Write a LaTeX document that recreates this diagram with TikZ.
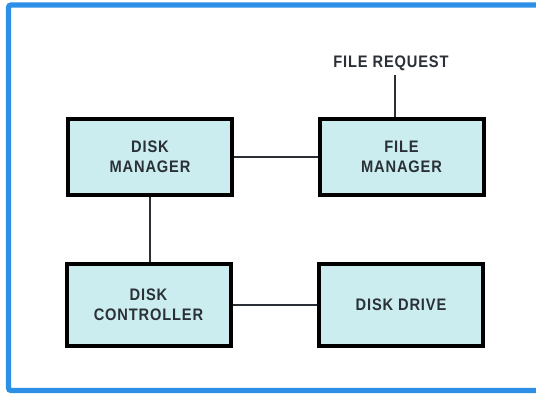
\documentclass[tikz,border=0pt]{standalone}
\usepackage{fontspec}
\setmainfont[FakeStretch=0.88,LetterSpace=5]{Liberation Sans}
\definecolor{boxfill}{HTML}{CBEDEF}
\definecolor{txt}{HTML}{2A3036}
\definecolor{frameblue}{HTML}{2E8FE6}
\begin{document}
\begin{tikzpicture}[x=0.75pt,y=-0.75pt,
  blockbox/.style={draw=black,line width=3pt,fill=boxfill,text=txt,
    font=\bfseries\fontsize{12.5}{15}\selectfont,align=center,
    minimum width=123pt,inner sep=0pt},
  toprow/.style={minimum height=57pt},
  botrow/.style={minimum height=61pt},
  link/.style={draw=txt,line width=1pt}]
\useasboundingbox (0,0) rectangle (536,396);
\fill[white] (0,0) rectangle (536,396);
\draw[frameblue,line width=4pt,rounded corners=2pt] (8.5,5) rectangle (548,390.5);
\node[blockbox,toprow] (dm) at (150,157) {DISK\\MANAGER};
\node[blockbox,toprow] (fm) at (401.5,157) {FILE\\MANAGER};
\node[blockbox,botrow] (dc) at (148.5,305) {DISK\\CONTROLLER};
\node[blockbox,botrow] (dd) at (401,305) {DISK DRIVE};
\node[text=txt,font=\bfseries\fontsize{12.5}{14}\selectfont,inner sep=0pt] (fr) at (391,63.5) {FILE REQUEST};
\coordinate (frend) at (395,75);
\draw[link] (frend) -- (frend |- fm.north);
\draw[link] (dm.east) -- (fm.west);
\draw[link] (dm.south) -- (dm.south |- dc.north);
\draw[link] (dc.east) -- (dd.west);
\end{tikzpicture}
\end{document}
